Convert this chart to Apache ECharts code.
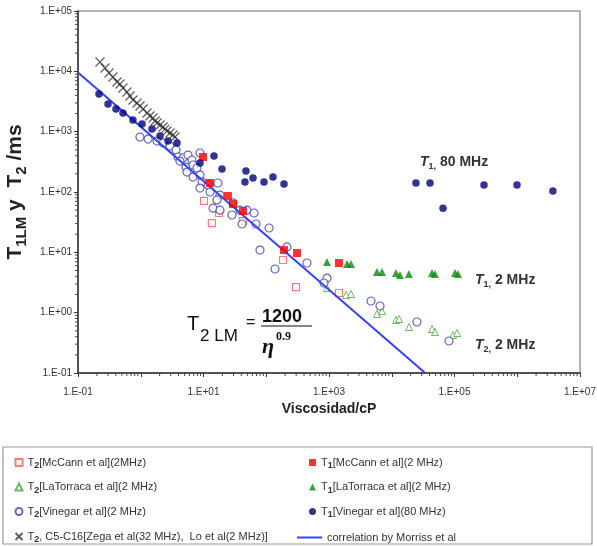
<!DOCTYPE html>
<html>
<head>
<meta charset="utf-8">
<script src="https://cdn.jsdelivr.net/npm/echarts@6/dist/echarts.min.js"></script>
<style>
  html, body { margin: 0; padding: 0; background: #fff; }
  #chart { width: 597px; height: 546px; }
</style>
</head>
<body>
<div id="chart"></div>
<script>
// valores (viscosidad cP, tiempo ms)
var t2McCann = [[10.2, 71], [13.6, 30.6], [17.7, 44.9], [42.6, 33], [185, 7.46], [298, 2.66], [1440, 2.12]];
var t1McCann = [[9.82, 380], [12.7, 141], [24.5, 85.9], [29.5, 63.2], [42.6, 48.4], [192, 10.9], [309, 9.74], [1440, 6.65]];
var t2LaTorraca = [[929, 2.56], [1870, 1.96], [2240, 2.04], [5820, 0.95], [7000, 1.06], [11700, 0.755], [13100, 0.785],
  [18800, 0.578], [43800, 0.536], [48900, 0.478], [94600, 0.426], [110000, 0.46]];
var t1LaTorraca = [[929, 6.92], [1935, 6.4], [2240, 6.4], [5820, 4.72], [7000, 4.72], [11700, 4.54], [13500, 4.21],
  [18800, 4.37], [43800, 4.54], [48900, 4.37], [102000, 4.54], [114000, 4.37]];
var t2Vinegar = [[0.97, 815], [1.31, 755], [1.82, 700], [2.27, 649], [2.92, 578], [3.65, 497], [3.93, 380], [4.71, 366],
  [5.66, 410], [6.56, 339], [4.22, 326], [5.26, 259], [6.81, 280], [5.46, 214], [6.81, 177], [8.79, 443], [7.87, 250],
  [8.79, 191], [9.46, 146], [8.79, 116], [11.8, 131], [12.7, 100], [17.0, 141], [18.3, 89], [16.4, 74], [14.2, 54],
  [18.3, 50], [29.5, 66], [38.2, 50], [49.3, 50], [63.8, 44.9], [28.4, 41.6], [41.1, 29.5], [68.7, 29.5], [111, 25.3],
  [79.4, 10.9], [214, 12.3], [446, 6.65], [138, 5.29], [929, 3.75], [832, 3.1], [4670, 1.56], [6500, 1.29],
  [25200, 0.7], [81700, 0.339]];
var t1Vinegar = [[0.216, 4210], [0.301, 2877], [0.403, 2377], [0.521, 2038], [0.751, 1561], [1.05, 1340], [1.51, 1107],
  [2.03, 847], [2.72, 700], [3.78, 649], [8.8, 303], [14.7, 395], [19.7, 240], [47.5, 223], [45.8, 146], [61.5, 171],
  [92, 146], [128, 177], [192, 136], [24300, 141], [40700, 141], [65600, 54], [295000, 131], [991000, 131], [3700000, 104]];
var t2Zega = [[0.224, 14300], [0.269, 11350], [0.312, 9380], [0.361, 8050], [0.419, 6650], [0.467, 6170], [0.521, 5290],
  [0.604, 4540], [0.674, 3900], [0.752, 3350], [0.871, 2985], [0.973, 2660], [1.09, 2375], [1.26, 2040], [1.40, 1820],
  [1.57, 1685], [1.69, 1500], [1.82, 1390], [2.03, 1290], [2.27, 1195], [2.43, 1105], [2.62, 1025], [2.93, 950],
  [3.27, 880], [3.52, 815]];
var morriss = [[0.1, 9530], [34100, 0.1]];

var xDecades = [-1, 0, 1, 2, 3, 4, 5, 6];
var yDecades = [-1, 0, 1, 2, 3, 4];
var minorSteps = [2, 3, 4, 5, 6, 7, 8, 9];

var legendText = {
  't2McCann': '{t|T}{s|2}{t|[McCann et al](2MHz)}',
  't2LaTorraca': '{t|T}{s|2}{t|[LaTorraca et al](2 MHz)}',
  't2Vinegar': '{t|T}{s|2}{t|[Vinegar et al](2 MHz)}',
  't2Zega': '{t|T}{s|2}{t|, C5-C16[Zega et al(32 MHz),  Lo et al(2 MHz)]}',
  't1McCann': '{t|T}{s|1}{t|[McCann et al](2 MHz)}',
  't1LaTorraca': '{t|T}{s|1}{t|[LaTorraca et al](2 MHz)}',
  't1Vinegar': '{t|T}{s|1}{t|[Vinegar et al](80 MHz)}',
  'morriss': '{t|correlation by Morriss et al}'
};

var xMinor = [], yMinor = [];
xDecades.forEach(function (d) {
  minorSteps.forEach(function (k) { xMinor.push([k * Math.pow(10, d), 0.1]); });
});
yDecades.forEach(function (d) {
  minorSteps.forEach(function (k) { yMinor.push([0.1, k * Math.pow(10, d)]); });
});

function expLabel(v) {
  var e = Math.round(Math.log10(v));
  var a = Math.abs(e);
  return '1.E' + (e < 0 ? '-' : '+') + (a < 10 ? '0' : '') + a;
}

var chart = echarts.init(document.getElementById('chart'));
var narrow = '"Liberation Sans Narrow", "Liberation Sans", Arial, sans-serif';
var sans = 'Arial, "Liberation Sans", sans-serif';
var legendRich = {
  t: { fontSize: 11, color: '#333', lineHeight: 16, verticalAlign: 'middle', fontFamily: sans },
  s: { fontSize: 9, color: '#333', lineHeight: 10, verticalAlign: 'bottom', fontWeight: 'bold', fontFamily: sans }
};
var annRich = {
  i: { fontSize: 14, fontWeight: 'bold', fontStyle: 'italic', fill: '#333', lineHeight: 18, verticalAlign: 'middle' },
  s: { fontSize: 9, fontWeight: 'bold', fill: '#333', lineHeight: 10, verticalAlign: 'bottom' },
  b: { fontSize: 14, fontWeight: 'bold', fill: '#333', lineHeight: 18, verticalAlign: 'middle' }
};
function legendBox(left, names) {
  return {
    left: left, top: 452, height: 100, orient: 'vertical', itemGap: 11, itemWidth: 7, itemHeight: 7,
    data: names, formatter: function (n) { return legendText[n]; },
    textStyle: { rich: legendRich }
  };
}

var option = {
  backgroundColor: '#fff',
  animation: false,
  grid: { left: 78, right: 17, top: 11, bottom: 173, outerBoundsMode: 'none', containLabel: false,
    show: true, borderColor: '#999', borderWidth: 1.5, backgroundColor: '#fff' },
  xAxis: {
    type: 'log', min: 0.1, max: 1e7, splitNumber: 8,
    name: 'Viscosidad/cP', nameLocation: 'middle', nameGap: 29,
    nameTextStyle: { fontSize: 14, fontWeight: 'bold', color: '#222', fontFamily: sans },
    axisLine: { lineStyle: { color: '#333', width: 1.5 } },
    axisTick: { length: 4, lineStyle: { color: '#333' } },
    splitLine: { show: false },
    axisLabel: { margin: 14, fontSize: 10, color: '#333', fontFamily: narrow, hideOverlap: false,
      formatter: function (v) { var e = Math.round(Math.log10(v)); return Math.abs(e) % 2 === 1 ? expLabel(v) : ''; } }
  },
  yAxis: {
    type: 'log', min: 0.1, max: 1e5, splitNumber: 6,
    name: '{t|T}{s|1LM}{t| y  T}{s|2}{t| /ms}', nameLocation: 'middle', nameGap: 48, nameRotate: 90,
    nameTextStyle: { rich: {
      t: { fontSize: 21, fontWeight: 'bold', color: '#222', lineHeight: 28, verticalAlign: 'middle', fontFamily: sans },
      s: { fontSize: 15, fontWeight: 'bold', color: '#222', lineHeight: 16, verticalAlign: 'bottom', fontFamily: sans }
    } },
    axisLine: { lineStyle: { color: '#333', width: 1.5 } },
    axisTick: { length: 4, lineStyle: { color: '#333' } },
    splitLine: { show: false },
    axisLabel: { margin: 6, fontSize: 10, color: '#333', fontFamily: narrow, formatter: expLabel }
  },
  legend: [
    legendBox(8, ['t2McCann', 't2LaTorraca', 't2Vinegar', 't2Zega']),
    legendBox(304, ['t1McCann', 't1LaTorraca', 't1Vinegar']),
    {
      left: 292, top: 527, orient: 'vertical', itemWidth: 25, itemHeight: 2,
      data: [{ name: 'morriss', icon: 'rect' }], formatter: function (n) { return legendText[n]; },
      textStyle: { rich: legendRich }
    }
  ],
  graphic: [
    { type: 'rect', shape: { x: 3, y: 447, width: 589, height: 97 }, style: { fill: 'none', stroke: '#999', lineWidth: 1.2 }, silent: true },
    { type: 'text', x: 420, y: 162, style: { text: '{i|T}{s|1,}{b| 80 MHz}', verticalAlign: 'middle', rich: annRich } },
    { type: 'text', x: 475, y: 280, style: { text: '{i|T}{s|1,}{b| 2 MHz}', verticalAlign: 'middle', rich: annRich } },
    { type: 'text', x: 475, y: 345, style: { text: '{i|T}{s|2,}{b| 2 MHz}', verticalAlign: 'middle', rich: annRich } },
    // formula T2 LM = 1200 / eta^0.9
    { type: 'text', x: 187, y: 314, style: { text: 'T', font: '20px ' + narrow, fill: '#111' } },
    { type: 'text', x: 200, y: 328, style: { text: '2 LM', font: '17px ' + narrow, fill: '#111' } },
    { type: 'text', x: 246, y: 315, style: { text: '=', font: '16px ' + narrow, fill: '#111' } },
    { type: 'text', x: 262, y: 308, style: { text: '1200', font: 'bold 18px ' + narrow, fill: '#111' } },
    { type: 'line', shape: { x1: 261, y1: 326, x2: 312, y2: 326 }, style: { stroke: '#111', lineWidth: 1.2 } },
    { type: 'text', x: 262, y: 336, style: { text: 'η', font: 'italic bold 22px "Liberation Serif", "DejaVu Serif", serif', fill: '#111' } },
    { type: 'text', x: 276, y: 331, style: { text: '0.9', font: 'bold 12px "Liberation Serif", serif', fill: '#111' } }
  ],
  series: [
    { name: 't2McCann', type: 'scatter', data: t2McCann, symbol: 'rect', symbolSize: 7,
      itemStyle: { color: '#fff', borderColor: '#ff5a5a', borderWidth: 1.2 } },
    { name: 't2LaTorraca', type: 'scatter', data: t2LaTorraca, symbol: 'triangle', symbolSize: 7,
      itemStyle: { color: '#fff', borderColor: '#4aa84a', borderWidth: 1 } },
    { name: 't2Vinegar', type: 'scatter', data: t2Vinegar, symbol: 'circle', symbolSize: 8,
      itemStyle: { color: '#fff', borderColor: '#4040a8', borderWidth: 1.2 } },
    { name: 'morriss', type: 'line', data: morriss, symbol: 'none', z: 3,
      lineStyle: { color: '#3342ff', width: 2 }, itemStyle: { color: '#3342ff' } },
    { name: 't1McCann', type: 'scatter', data: t1McCann, symbol: 'rect', symbolSize: 8, z: 4,
      itemStyle: { color: '#ff0000' } },
    { name: 't1LaTorraca', type: 'scatter', data: t1LaTorraca, symbol: 'triangle', symbolSize: 8, z: 4,
      itemStyle: { color: '#0a8a0a' } },
    { name: 't1Vinegar', type: 'scatter', data: t1Vinegar, symbol: 'circle', symbolSize: 7.5, z: 4,
      itemStyle: { color: '#00007a' } },
    { name: 't2Zega', type: 'scatter', data: t2Zega, symbol: 'path://M0,0L10,10M10,0L0,10', symbolSize: 9, z: 5,
      itemStyle: { color: 'none', borderColor: '#333', borderWidth: 1.2 } },
    { type: 'custom', data: xMinor, silent: true, clip: false, z: 6,
      renderItem: function (params, api) {
        var p = api.coord([api.value(0), api.value(1)]);
        return { type: 'line', shape: { x1: p[0], y1: p[1], x2: p[0], y2: p[1] + 3 }, style: { stroke: '#444', lineWidth: 1 } };
      } },
    { type: 'custom', data: yMinor, silent: true, clip: false, z: 6,
      renderItem: function (params, api) {
        var p = api.coord([api.value(0), api.value(1)]);
        return { type: 'line', shape: { x1: p[0] - 3, y1: p[1], x2: p[0], y2: p[1] }, style: { stroke: '#444', lineWidth: 1 } };
      } }
  ]
};
chart.setOption(option);
</script>
</body>
</html>
